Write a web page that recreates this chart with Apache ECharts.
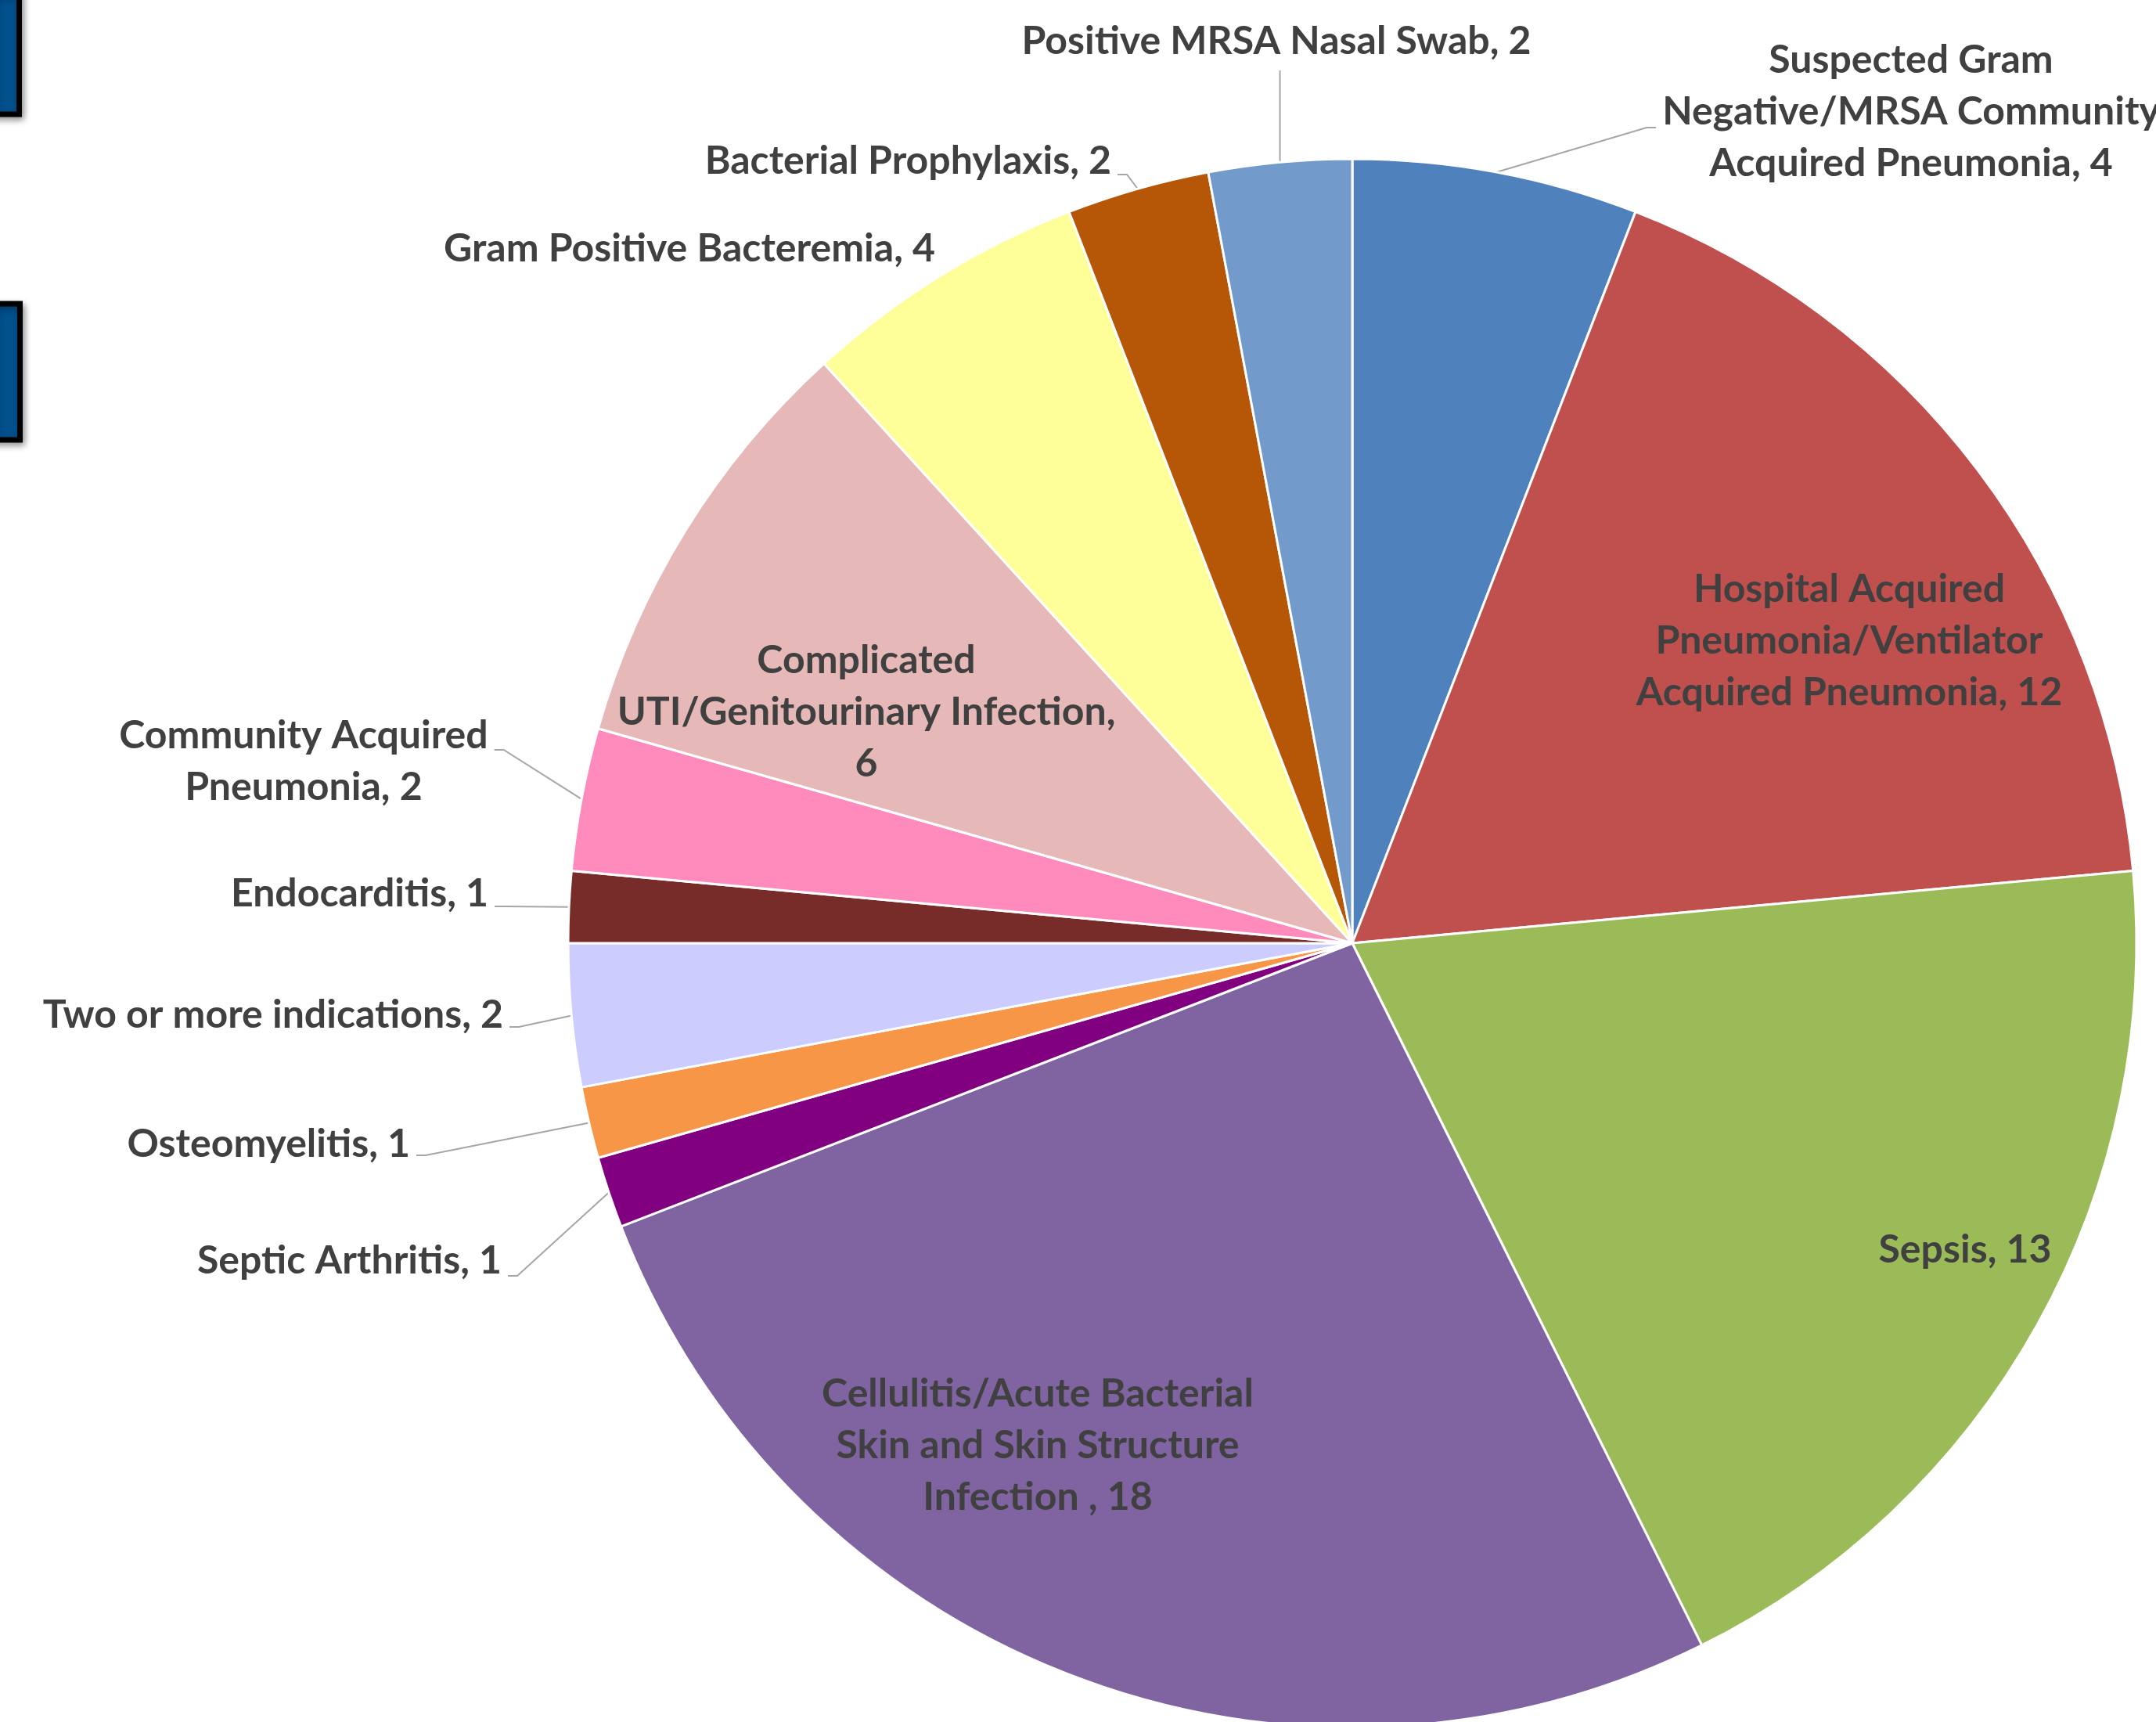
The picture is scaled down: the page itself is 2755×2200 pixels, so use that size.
<!DOCTYPE html>
<html>
<head>
<meta charset="utf-8">
<title>Indications</title>
<script src="https://cdn.jsdelivr.net/npm/echarts@6/dist/echarts.min.js"></script>
<style>
  html, body { margin: 0; padding: 0; background: #ffffff; }
  #chart { width: 2755px; height: 2200px; }
</style>
</head>
<body>
<div id="chart"></div>
<script>
// Indication categories, clockwise from 12 o'clock
const categories = [
  'Suspected Gram Negative/MRSA Community Acquired Pneumonia',
  'Hospital Acquired Pneumonia/Ventilator Acquired Pneumonia',
  'Sepsis',
  'Cellulitis/Acute Bacterial Skin and Skin Structure Infection ',
  'Septic Arthritis',
  'Osteomyelitis',
  'Two or more indications',
  'Endocarditis',
  'Community Acquired Pneumonia',
  'Complicated UTI/Genitourinary Infection',
  'Gram Positive Bacteremia',
  'Bacterial Prophylaxis',
  'Positive MRSA Nasal Swab'
];

// Number of patients per indication
const counts = [4, 12, 13, 18, 1, 1, 2, 1, 2, 6, 4, 2, 2];

// Slice fill colours
const sliceColors = [
  '#4F81BD', '#C0504D', '#9BBB59', '#8064A2', '#800080', '#F79646', '#CCCCFF',
  '#772C2A', '#FF8BBD', '#E6B9B8', '#FFFF99', '#B65708', '#729ACA'
];

// ---- label styling / placement (layout only) ----
const wrapChars = [23, 22, 99, 26, 99, 99, 99, 99, 18, 28, 99, 99, 99];
const insideLabel = [false, true, true, true, false, false, false, false, false, true, false, false, false];
// label anchor, alignment and leader attachment height
const labelSpots = [
  { x: 2442, y: 143,  align: 'center', lead: 'left',  ay: 163 },
  { x: 2363, y: 819,  align: 'center' },
  { x: 2511, y: 1597, align: 'center' },
  { x: 1326, y: 1847, align: 'center' },
  { x: 641,  y: 1611, align: 'right', lead: 'right', ay: 1630 },
  { x: 524,  y: 1462, align: 'right', lead: 'right', ay: 1476 },
  { x: 643,  y: 1297, align: 'right', lead: 'right', ay: 1312 },
  { x: 624,  y: 1142, align: 'right', lead: 'right', ay: 1158 },
  { x: 388,  y: 973,  align: 'center', lead: 'right', ay: 958 },
  { x: 1107, y: 910,  align: 'center' },
  { x: 1195, y: 318,  align: 'right' },
  { x: 1420, y: 206,  align: 'right', lead: 'right', ay: 223 },
  { x: 1631, y: 53,   align: 'center', lead: 'up' }
];

function wrapText(text, maxChars) {
  const words = text.split(/\s+/).filter(function (w) { return w.length; });
  const lines = [];
  let cur = '';
  words.forEach(function (w) {
    const next = cur ? cur + ' ' + w : w;
    if (cur && next.length > maxChars) { lines.push(cur); cur = w; }
    else { cur = next; }
  });
  if (cur) lines.push(cur);
  return lines.join('\n');
}

const pieData = categories.map(function (name, i) {
  const item = {
    name: name,
    value: counts[i],
    itemStyle: { color: sliceColors[i] }
  };
  if (insideLabel[i]) {
    item.label = { position: 'inside' };
    item.labelLine = { show: false };
  } else if (!labelSpots[i].lead) {
    item.labelLine = { show: false };
  }
  return item;
});

const chart = echarts.init(document.getElementById('chart'), null, { renderer: 'canvas' });

chart.setOption({
  backgroundColor: '#ffffff',
  animation: false,
  graphic: [
    {
      type: 'rect',
      shape: { x: -10, y: -10, width: 34.5, height: 156 },
      style: {
        fill: '#02508C', stroke: '#000000', lineWidth: 7,
        shadowBlur: 8, shadowOffsetX: 3, shadowOffsetY: 4, shadowColor: 'rgba(0,0,0,0.35)'
      }
    },
    {
      type: 'rect',
      shape: { x: -10, y: 388, width: 35.5, height: 174 },
      style: {
        fill: '#02508C', stroke: '#000000', lineWidth: 7,
        shadowBlur: 8, shadowOffsetX: 3, shadowOffsetY: 4, shadowColor: 'rgba(0,0,0,0.35)'
      }
    }
  ],
  series: [{
    type: 'pie',
    center: [1728, 1205],
    radius: 1002,
    startAngle: 90,
    clockwise: true,
    avoidLabelOverlap: false,
    data: pieData,
    itemStyle: { borderColor: '#ffffff', borderWidth: 3 },
    label: {
      show: true,
      formatter: function (p) {
        return wrapText(p.name + ', ' + p.value, wrapChars[p.dataIndex]);
      },
      fontFamily: 'Lato',
      fontWeight: 'bold',
      fontSize: 50,
      lineHeight: 66,
      color: '#404040',
      textBorderWidth: 0,
      align: 'center'
    },
    labelLine: {
      show: true,
      length: 20,
      length2: 10,
      lineStyle: { color: '#A6A6A6', width: 2 }
    },
    emphasis: { disabled: true },
    labelLayout: function (p) {
      const s = labelSpots[p.dataIndex];
      const out = { x: s.x, y: s.y, align: s.align, verticalAlign: 'middle' };
      const w = p.labelRect.width;
      const h = p.labelRect.height;
      if (s.lead && p.labelLinePoints) {
        const p0 = p.labelLinePoints[0];
        let pts;
        if (s.lead === 'up') {
          pts = [p0.slice(), [p0[0], s.y + h / 2 + 4]];
        } else {
          let edge;
          if (s.align === 'right') edge = s.x;
          else edge = s.lead === 'right' ? s.x + w / 2 : s.x - w / 2;
          const dir = s.lead === 'right' ? 1 : -1;
          const end = [edge + dir * 8, s.ay];
          const elbow = [end[0] + dir * 12, s.ay];
          pts = [p0.slice(), elbow, end];
        }
        out.labelLinePoints = pts;
      }
      return out;
    }
  }]
});
</script>
</body>
</html>
